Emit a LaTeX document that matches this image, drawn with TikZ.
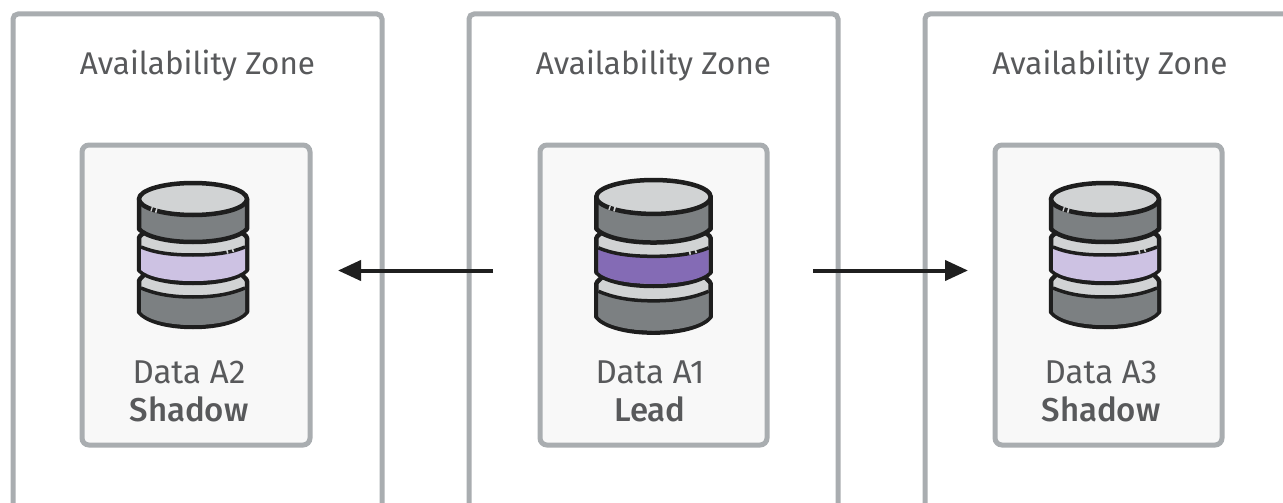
\documentclass[tikz,border=0pt]{standalone}
\usepackage{fontspec}
\setmainfont{Fira Sans}[BoldFont=Fira Sans Medium]
\usetikzlibrary{arrows.meta}
\definecolor{zoneline}{HTML}{A9ADB0}
\definecolor{innerfill}{HTML}{F8F8F8}
\definecolor{txt}{HTML}{58595B}
\definecolor{cyldark}{HTML}{7C8082}
\definecolor{cyllight}{HTML}{D1D3D4}
\definecolor{cylline}{HTML}{1E1E1E}
\definecolor{palepurple}{HTML}{CDC2E3}
\definecolor{strongpurple}{HTML}{846BB5}
\tikzset{
  x=1pt,y=-1pt,
  zone/.style={draw=zoneline,line width=5pt,fill=white,rounded corners=5pt},
  inner box/.style={draw=zoneline,line width=5pt,fill=innerfill,rounded corners=7pt},
  zonelabel/.style={font=\fontsize{31.4}{36}\selectfont,text=txt,anchor=center,inner sep=0pt},
  datalabel/.style={font=\fontsize{33}{38}\selectfont,text=txt,align=center,anchor=center,inner sep=0pt},
  flow/.style={draw=black!88,line width=4pt,-{Triangle[length=23pt,width=20pt]}},
  cyl/.style={draw=cylline,line width=4.5pt,line join=round},
  arcline/.style={draw=cylline,line width=3.5pt},
  pics/dbcyl/.style={code={
    % bottom disc
    \path[cyl,fill=cyllight] (-47,90) -- (-53,96) -- (-54,98) -- (-54,129) .. controls (-48,137) and (-28,144) .. (0,144) .. controls (28,144) and (48,137) .. (54,129) -- (54,98) -- (53,96) -- (47,90) -- cycle;
    \path[fill=cyldark] (-52,105) .. controls (-40,110) and (-25,114) .. (0,114) .. controls (25,114) and (40,110) .. (52,105) -- (52,129) .. controls (46,136) and (28,142) .. (0,142) .. controls (-28,142) and (-46,136) .. (-52,129) -- cycle;
    \path[arcline] (-52,105) .. controls (-40,110) and (-25,114) .. (0,114) .. controls (25,114) and (40,110) .. (52,105);
    % middle disc
    \path[cyl,fill=cyllight] (-47,48) -- (-53,53) -- (-54,55) -- (-54,87) .. controls (-48,94) and (-28,100) .. (0,100) .. controls (28,100) and (48,94) .. (54,87) -- (54,55) -- (53,53) -- (47,48) -- cycle;
    \path[fill=#1] (-52,64) .. controls (-40,69) and (-25,72) .. (0,72) .. controls (25,72) and (40,69) .. (52,64) -- (52,87) .. controls (46,93) and (28,98) .. (0,98) .. controls (-28,98) and (-46,93) .. (-52,87) -- cycle;
    \path[arcline] (-52,64) .. controls (-40,69) and (-25,72) .. (0,72) .. controls (25,72) and (40,69) .. (52,64);
    \path[draw=cyllight,line width=4.5pt] (33.5,68.6) -- (35,68.2) (39,67.1) -- (40.5,66.6);
    % top disc
    \path[cyl,fill=cyldark] (-54,16) -- (-54,46) .. controls (-48,53) and (-28,59) .. (0,59) .. controls (28,59) and (48,53) .. (54,46) -- (54,16) -- cycle;
    \path[cyl,fill=cyllight] (0,16) ellipse [x radius=54,y radius=16];
    \path[draw=cyllight,line width=4.5pt] (-42,26.1) -- (-40.8,26.5) (-37.5,27.3) -- (-36,27.7);
  }},
}
\begin{document}
\begin{tikzpicture}
\useasboundingbox (0,0) rectangle (1283,503);
\fill[white] (0,0) rectangle (1283,503);
% zones, open at the bottom
\path[zone] (13,510) -- (13,14) -- (382,14) -- (382,510);
\path[zone] (469,510) -- (469,14) -- (838,14) -- (838,510);
\path[zone] (925,510) -- (925,14) -- (1294,14) -- (1294,510);
\node[zonelabel] (z1) at (197.5,66) {Availability Zone};
\node[zonelabel] (z2) at (653.5,66) {Availability Zone};
\node[zonelabel] (z3) at (1110,66) {Availability Zone};
\draw[inner box] (82,145) rectangle (310,445);
\draw[inner box] (540,145) rectangle (767,445);
\draw[inner box] (995,145) rectangle (1222,445);
\pic at (193,183) {dbcyl=palepurple};
\pic[scale=1.06] at (653.5,180) {dbcyl=strongpurple};
\pic at (1105,183) {dbcyl=palepurple};
\node[datalabel] (d2) at (189,372) {Data A2};
\node[datalabel] (s2) at (189,409) {\bfseries Shadow};
\node[datalabel] (d1) at (650,372) {Data A1};
\node[datalabel] (l1) at (650,409) {\bfseries Lead};
\node[datalabel] (d3) at (1101,372) {Data A3};
\node[datalabel] (s3) at (1101,409) {\bfseries Shadow};
\coordinate (a1s) at (493,270.5);
\coordinate (a1e) at (338,270.5);
\coordinate (a2s) at (813,270.5);
\coordinate (a2e) at (968,270.5);
\draw[flow] (a1s) -- (a1e);
\draw[flow] (a2s) -- (a2e);
\end{tikzpicture}
\end{document}
